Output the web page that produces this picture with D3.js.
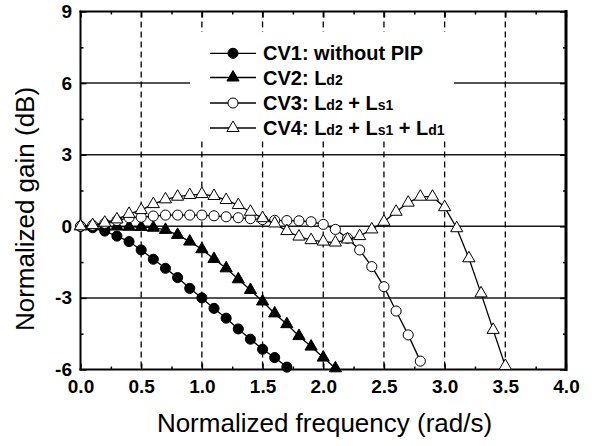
<!DOCTYPE html>
<html><head><meta charset="utf-8">
<script src="https://cdn.jsdelivr.net/npm/d3@7"></script>
<style>
body{margin:0;background:#fff}
svg{display:block}
text{font-family:"Liberation Sans",Arial,Helvetica,sans-serif;fill:#000}
</style>
</head><body>
<svg id="chart" width="606" height="446"></svg>
<script>
// ---- data ----
const freq = [0.0,0.1,0.2,0.3,0.4,0.5,0.6,0.7,0.8,0.9,1.0,1.1,1.2,1.3,1.4,1.5,1.6,1.7,1.8,1.9,2.0,2.1,2.2,2.3,2.4,2.5,2.6,2.7,2.8,2.9,3.0,3.1,3.2,3.3,3.4,3.5];
const cv1 = [0,-0.06,-0.2,-0.41,-0.64,-0.99,-1.38,-1.76,-2.15,-2.6,-3.0,-3.44,-3.85,-4.3,-4.73,-5.15,-5.5,-5.9];
const cv2 = [0,0,-0.01,-0.01,-0.02,-0.03,-0.06,-0.15,-0.36,-0.64,-0.96,-1.37,-1.76,-2.22,-2.67,-3.15,-3.65,-4.1,-4.6,-5.04,-5.5,-5.95];
const cv3 = [0,0.04,0.12,0.24,0.36,0.38,0.43,0.47,0.47,0.47,0.47,0.44,0.40,0.36,0.32,0.28,0.25,0.24,0.23,0.19,0.08,-0.13,-0.5,-0.99,-1.69,-2.53,-3.55,-4.55,-5.65];
const cv4 = [0,0.05,0.15,0.29,0.52,0.68,0.93,1.13,1.24,1.31,1.35,1.27,1.1,0.89,0.61,0.34,0.12,-0.2,-0.43,-0.58,-0.64,-0.68,-0.55,-0.41,-0.13,0.19,0.61,0.99,1.24,1.24,0.8,-0.08,-1.34,-2.81,-4.34,-5.85];
const xTicks = [0.0,0.5,1.0,1.5,2.0,2.5,3.0,3.5,4.0];
const xMinor = [0.25,0.75,1.25,1.75,2.25,2.75,3.25,3.75];
const yTicks = [9,6,3,0,-3,-6];
const yMinor = [7.5,4.5,1.5,-1.5,-4.5];
const gridY = [6,3,0,-3];
const gridX = [0.5,1.0,1.5,2.0,2.5,3.0,3.5];
const legendMain = ["CV1: without PIP","CV2: ","CV3: ","CV4: "];
const legendParts = [
  [],
  [["L","d2"]],
  [["L","d2"],[" + L","s1"]],
  [["L","d2"],[" + L","s1"],[" + L","d1"]]
];
const xTitle = "Normalized frequency (rad/s)";
const yTitle = "Normalized gain (dB)";

// ---- layout ----
const L = 80.5, R = 566, T = 11.5, B = 369.5;
const svg = d3.select("#chart");
const x = d3.scaleLinear().domain([0,4]).range([L,R]);
const y = d3.scaleLinear().domain([-6,9]).range([B,T]);

// grid horizontal
svg.append("g").selectAll("line").data(gridY).join("line")
  .attr("x1",L).attr("x2",R).attr("y1",d=>y(d)).attr("y2",d=>y(d))
  .attr("stroke","#1a1a1a").attr("stroke-width",1.5);
// grid vertical dashed
svg.append("g").selectAll("line").data(gridX).join("line")
  .attr("x1",d=>x(d)).attr("x2",d=>x(d)).attr("y1",T).attr("y2",B)
  .attr("stroke","#000").attr("stroke-width",1.3).attr("stroke-dasharray","6,4");

// legend background
svg.append("rect").attr("x",190).attr("y",32).attr("width",264).attr("height",109).attr("fill","#fff");

// axes
function styleAxis(g){ g.select(".domain").remove(); g.selectAll(".tick line").attr("stroke","#000").attr("stroke-width",1.5); }
svg.append("g").attr("transform",`translate(0,${B})`)
  .call(d3.axisBottom(x).tickValues(xTicks).tickFormat(d3.format(".1f")).tickSizeInner(-6).tickSizeOuter(0).tickPadding(10))
  .call(styleAxis)
  .call(g=>g.selectAll("text").attr("font-size",19).attr("font-weight","bold").attr("font-family","'Liberation Sans',Arial,sans-serif").attr("fill","#000"));
svg.append("g").attr("transform",`translate(0,${B})`)
  .call(d3.axisBottom(x).tickValues(xMinor).tickFormat("").tickSizeInner(-3).tickSizeOuter(0)).call(styleAxis);
svg.append("g").attr("transform",`translate(0,${T})`)
  .call(d3.axisTop(x).tickValues(xTicks).tickFormat("").tickSizeInner(-6).tickSizeOuter(0)).call(styleAxis);
svg.append("g").attr("transform",`translate(0,${T})`)
  .call(d3.axisTop(x).tickValues(xMinor).tickFormat("").tickSizeInner(-3).tickSizeOuter(0)).call(styleAxis);
svg.append("g").attr("transform",`translate(${L},0)`)
  .call(d3.axisLeft(y).tickValues(yTicks).tickFormat(d=>String(d)).tickSizeInner(-6).tickSizeOuter(0).tickPadding(8.5))
  .call(styleAxis)
  .call(g=>g.selectAll("text").attr("font-size",19).attr("font-weight","bold").attr("font-family","'Liberation Sans',Arial,sans-serif").attr("fill","#000"));
svg.append("g").attr("transform",`translate(${L},0)`)
  .call(d3.axisLeft(y).tickValues(yMinor).tickFormat("").tickSizeInner(-3).tickSizeOuter(0)).call(styleAxis);
svg.append("g").attr("transform",`translate(${R},0)`)
  .call(d3.axisRight(y).tickValues(yTicks).tickFormat("").tickSizeInner(-6).tickSizeOuter(0)).call(styleAxis);
svg.append("g").attr("transform",`translate(${R},0)`)
  .call(d3.axisRight(y).tickValues(yMinor).tickFormat("").tickSizeInner(-3).tickSizeOuter(0)).call(styleAxis);

// frame
const frame = svg.append("g").attr("stroke","#000").attr("stroke-linecap","square");
frame.append("line").attr("x1",L).attr("x2",L).attr("y1",T).attr("y2",B).attr("stroke-width",2);
frame.append("line").attr("x1",L).attr("x2",R).attr("y1",B).attr("y2",B).attr("stroke-width",2.2);
frame.append("line").attr("x1",L).attr("x2",R).attr("y1",T).attr("y2",T).attr("stroke-width",2.2);
frame.append("line").attr("x1",R).attr("x2",R).attr("y1",T).attr("y2",B).attr("stroke-width",3);

// series
const series = [
  {vals:cv1, sym:d3.symbolCircle, size:80, fill:"#000"},
  {vals:cv2, sym:d3.symbolTriangle, size:64, fill:"#000"},
  {vals:cv3, sym:d3.symbolCircle, size:80, fill:"#fff"},
  {vals:cv4, sym:d3.symbolTriangle, size:64, fill:"#fff"}
];
const line = d3.line().x(d=>x(d[0])).y(d=>y(d[1]));
series.forEach(s=>{
  const pts = s.vals.map((v,i)=>[freq[i],v]);
  const g = svg.append("g");
  g.append("path").attr("d",line(pts)).attr("fill","none").attr("stroke","#000").attr("stroke-width",1.3);
  g.selectAll("path.m").data(pts).join("path").attr("class","m")
    .attr("transform",d=>`translate(${x(d[0])},${y(d[1])})`)
    .attr("d",d3.symbol().type(s.sym).size(s.size))
    .attr("fill",s.fill).attr("stroke","#000").attr("stroke-width",1);
});

// legend
const rowY = [53.3,77.5,103,128];
const lg = svg.append("g");
series.forEach((s,i)=>{
  lg.append("line").attr("x1",210).attr("x2",256).attr("y1",rowY[i]).attr("y2",rowY[i]).attr("stroke","#000").attr("stroke-width",1.3);
  lg.append("path").attr("transform",`translate(233,${rowY[i]})`).attr("d",d3.symbol().type(s.sym).size(s.size))
    .attr("fill",s.fill).attr("stroke","#000").attr("stroke-width",1);
  const t = lg.append("text").attr("x",263).attr("y",rowY[i]+7).attr("font-size",20).attr("font-weight","bold");
  t.append("tspan").text(legendMain[i]);
  legendParts[i].forEach(p=>{
    t.append("tspan").text(p[0]);
    t.append("tspan").attr("font-size",14).text(p[1]);
  });
});

// titles
svg.append("text").attr("x",324.5).attr("y",432).attr("text-anchor","middle").attr("font-size",26).text(xTitle);
svg.append("text").attr("transform","translate(33.5,209) rotate(-90)").attr("text-anchor","middle").attr("font-size",26).text(yTitle);
</script>
</body></html>
